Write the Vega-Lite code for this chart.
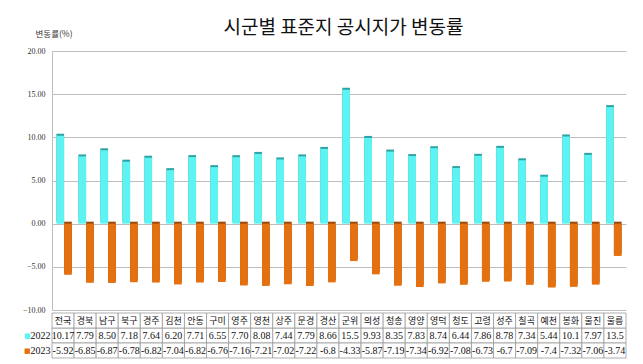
{
  "$schema": "https://vega.github.io/schema/vega-lite/v6.json",
  "padding": {"left": 22, "top": 19, "right": 8, "bottom": 2},
  "background": "white",
  "bounds": "flush",
  "spacing": 3,
  "config": {
    "font": "Noto Sans CJK KR",
    "view": {"stroke": null}
  },
  "title": {
    "text": "시군별 표준지 공시지가 변동률",
    "fontSize": 19,
    "fontWeight": "normal",
    "color": "#111111",
    "anchor": "middle",
    "offset": -9,
    "dx": 19
  },
  "datasets": {
    "rates": [
      {"region": "전국", "year": "2022", "value": 10.17, "label": "10.17"},
      {"region": "경북", "year": "2022", "value": 7.79, "label": "7.79"},
      {"region": "남구", "year": "2022", "value": 8.50, "label": "8.50"},
      {"region": "북구", "year": "2022", "value": 7.18, "label": "7.18"},
      {"region": "경주", "year": "2022", "value": 7.64, "label": "7.64"},
      {"region": "김천", "year": "2022", "value": 6.20, "label": "6.20"},
      {"region": "안동", "year": "2022", "value": 7.71, "label": "7.71"},
      {"region": "구미", "year": "2022", "value": 6.55, "label": "6.55"},
      {"region": "영주", "year": "2022", "value": 7.70, "label": "7.70"},
      {"region": "영천", "year": "2022", "value": 8.08, "label": "8.08"},
      {"region": "상주", "year": "2022", "value": 7.44, "label": "7.44"},
      {"region": "문경", "year": "2022", "value": 7.79, "label": "7.79"},
      {"region": "경산", "year": "2022", "value": 8.66, "label": "8.66"},
      {"region": "군위", "year": "2022", "value": 15.5, "label": "15.5"},
      {"region": "의성", "year": "2022", "value": 9.93, "label": "9.93"},
      {"region": "청송", "year": "2022", "value": 8.35, "label": "8.35"},
      {"region": "영양", "year": "2022", "value": 7.83, "label": "7.83"},
      {"region": "영덕", "year": "2022", "value": 8.74, "label": "8.74"},
      {"region": "청도", "year": "2022", "value": 6.44, "label": "6.44"},
      {"region": "고령", "year": "2022", "value": 7.86, "label": "7.86"},
      {"region": "성주", "year": "2022", "value": 8.78, "label": "8.78"},
      {"region": "칠곡", "year": "2022", "value": 7.34, "label": "7.34"},
      {"region": "예천", "year": "2022", "value": 5.44, "label": "5.44"},
      {"region": "봉화", "year": "2022", "value": 10.1, "label": "10.1"},
      {"region": "울진", "year": "2022", "value": 7.97, "label": "7.97"},
      {"region": "울릉", "year": "2022", "value": 13.5, "label": "13.5"},
      {"region": "전국", "year": "2023", "value": -5.92, "label": "-5.92"},
      {"region": "경북", "year": "2023", "value": -6.85, "label": "-6.85"},
      {"region": "남구", "year": "2023", "value": -6.87, "label": "-6.87"},
      {"region": "북구", "year": "2023", "value": -6.78, "label": "-6.78"},
      {"region": "경주", "year": "2023", "value": -6.82, "label": "-6.82"},
      {"region": "김천", "year": "2023", "value": -7.04, "label": "-7.04"},
      {"region": "안동", "year": "2023", "value": -6.82, "label": "-6.82"},
      {"region": "구미", "year": "2023", "value": -6.76, "label": "-6.76"},
      {"region": "영주", "year": "2023", "value": -7.16, "label": "-7.16"},
      {"region": "영천", "year": "2023", "value": -7.21, "label": "-7.21"},
      {"region": "상주", "year": "2023", "value": -7.02, "label": "-7.02"},
      {"region": "문경", "year": "2023", "value": -7.22, "label": "-7.22"},
      {"region": "경산", "year": "2023", "value": -6.8, "label": "-6.8"},
      {"region": "군위", "year": "2023", "value": -4.33, "label": "-4.33"},
      {"region": "의성", "year": "2023", "value": -5.87, "label": "-5.87"},
      {"region": "청송", "year": "2023", "value": -7.19, "label": "-7.19"},
      {"region": "영양", "year": "2023", "value": -7.34, "label": "-7.34"},
      {"region": "영덕", "year": "2023", "value": -6.92, "label": "-6.92"},
      {"region": "청도", "year": "2023", "value": -7.08, "label": "-7.08"},
      {"region": "고령", "year": "2023", "value": -6.73, "label": "-6.73"},
      {"region": "성주", "year": "2023", "value": -6.7, "label": "-6.7"},
      {"region": "칠곡", "year": "2023", "value": -7.09, "label": "-7.09"},
      {"region": "예천", "year": "2023", "value": -7.4, "label": "-7.4"},
      {"region": "봉화", "year": "2023", "value": -7.32, "label": "-7.32"},
      {"region": "울진", "year": "2023", "value": -7.06, "label": "-7.06"},
      {"region": "울릉", "year": "2023", "value": -3.74, "label": "-3.74"}
    ]
  },
  "vconcat": [
    {
      "width": 574,
      "height": 259,
      "data": {"name": "rates"},
      "encoding": {
        "x": {
          "field": "region",
          "type": "nominal",
          "sort": null,
          "scale": {"paddingInner": 0.3, "paddingOuter": 0.2},
          "axis": null
        },
        "xOffset": {"field": "year", "type": "nominal", "scale": {"domain": ["2022", "2023"]}},
        "y": {
          "field": "value",
          "type": "quantitative",
          "scale": {"domain": [-10, 20], "nice": false},
          "axis": {
            "values": [-10, -5, 0, 5, 10, 15, 20],
            "format": ".2f",
            "labelFontSize": 8,
            "labelColor": "#333333",
            "labelFont": "Liberation Sans Narrow",
            "ticks": false,
            "labelPadding": 7,
            "grid": true,
            "gridColor": "#bdbdbd",
            "domainColor": "#bdbdbd",
            "title": "변동률(%)",
            "titleAngle": 0,
            "titleAlign": "left",
            "titleBaseline": "bottom",
            "titleX": -17,
            "titleY": -13,
            "titleFontSize": 8.5,
            "titleFontWeight": "normal",
            "titleColor": "#333333"
          }
        }
      },
      "layer": [
        {
          "mark": {"type": "bar", "xOffset": 2, "yOffset": -2},
          "encoding": {
            "color": {
              "field": "year",
              "type": "nominal",
              "scale": {"domain": ["2022", "2023"], "range": ["#2fa3a3", "#9c4a0a"]},
              "legend": null
            }
          }
        },
        {
          "mark": {"type": "bar"},
          "encoding": {
            "color": {
              "field": "year",
              "type": "nominal",
              "scale": {"domain": ["2022", "2023"], "range": ["#5ef3f3", "#e4700f"]},
              "legend": null
            }
          }
        }
      ],
      "resolve": {"scale": {"color": "independent"}}
    },
    {
      "width": 574,
      "height": 45,
      "data": {"name": "rates"},
      "encoding": {
        "x": {
          "field": "region",
          "type": "nominal",
          "sort": null,
          "scale": {"paddingInner": 0, "paddingOuter": 0},
          "axis": null
        }
      },
      "layer": [
        {
          "mark": {"type": "rect", "fill": "white", "stroke": "#9a9a9a", "strokeWidth": 0.8},
          "encoding": {
            "y": {
              "field": "year",
              "type": "ordinal",
              "scale": {"domain": ["name", "2022", "2023"], "paddingInner": 0, "paddingOuter": 0},
              "axis": {
                "orient": "left",
                "labelExpr": "datum.value == 'name' ? '' : datum.value",
                "labelFontSize": 10,
                "labelFont": "Liberation Sans Narrow",
                "labelColor": "#111111",
                "labelPadding": 2,
                "ticks": false,
                "domain": false,
                "grid": false,
                "title": null
              }
            }
          }
        },
        {
          "transform": [{"filter": "datum.year == '2022'"}],
          "mark": {"type": "rect", "fill": "white", "stroke": "#9a9a9a", "strokeWidth": 0.8},
          "encoding": {
            "y": {"datum": "name", "type": "ordinal", "axis": null}
          }
        },
        {
          "transform": [{"filter": "datum.year == '2022'"}],
          "mark": {"type": "text", "fontSize": 9, "color": "#111111"},
          "encoding": {
            "y": {"datum": "name", "type": "ordinal", "axis": null},
            "text": {"field": "region"}
          }
        },
        {
          "mark": {"type": "text", "fontSize": 10, "font": "Liberation Sans Narrow", "color": "#111111"},
          "encoding": {
            "y": {
              "field": "year",
              "type": "ordinal",
              "axis": {
                "orient": "left",
                "offset": 22,
                "labelExpr": "datum.value == 'name' ? '' : '■'",
                "labelFontSize": 7,
                "labelFont": "DejaVu Sans",
                "labelColor": {"condition": {"test": "datum.value == '2022'", "value": "#5ef3f3"}, "value": "#e4700f"},
                "labelPadding": 0,
                "ticks": false,
                "domain": false,
                "grid": false,
                "title": null
              }
            },
            "text": {"field": "label"}
          }
        }
      ],
      "resolve": {"axis": {"y": "independent"}}
    }
  ]
}
